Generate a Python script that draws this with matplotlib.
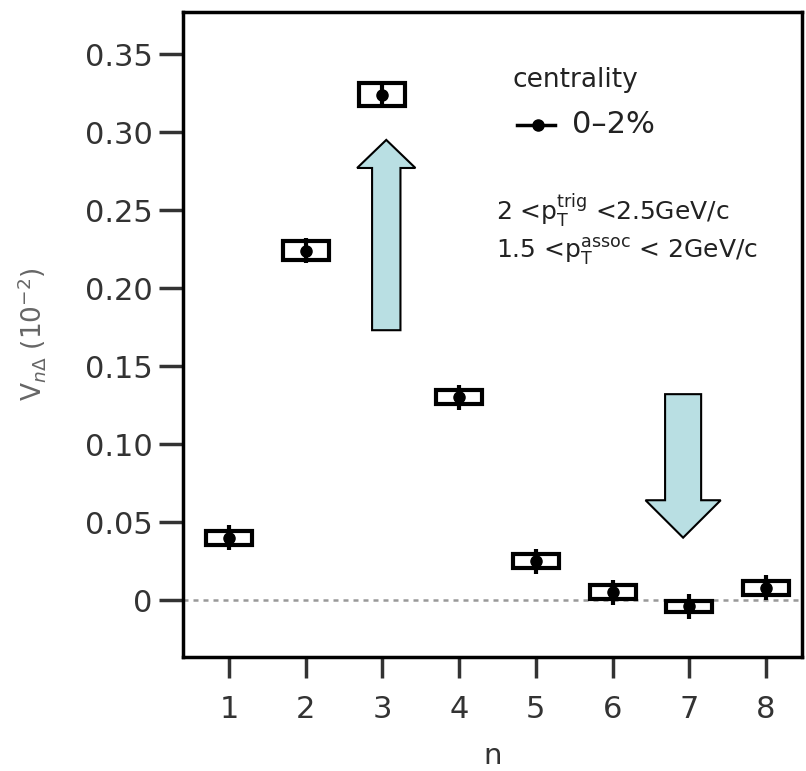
import numpy as np
import matplotlib.pyplot as plt
from matplotlib.patches import Rectangle, FancyArrow

# Harmonic order and measured v_n values (units of 10^-2)
n_vals = [1, 2, 3, 4, 5, 6, 7, 8]
v_vals = [0.040, 0.224, 0.324, 0.130, 0.025, 0.005, -0.004, 0.008]
stat_err = [0.008, 0.008, 0.007, 0.008, 0.008, 0.008, 0.008, 0.008]
sys_err = [0.0045, 0.006, 0.0075, 0.0045, 0.0045, 0.0045, 0.0035, 0.0045]

plt.rcParams['font.family'] = ['DejaVu Sans']
plt.rcParams['mathtext.fontset'] = 'dejavusans'

fig = plt.figure(figsize=(8.06, 7.71), dpi=100)
ax = fig.add_axes([183 / 806, 1 - 657 / 771, 619 / 806, 645 / 771])

ax.set_xlim(0.40, 8.47)
ax.set_ylim(-0.0365, 0.377)

# zero reference line
ax.axhline(0, color='#999999', lw=1.8, ls=(0, (2, 2)), zorder=1)

# systematic boxes
box_w = 0.60
for n, v, s in zip(n_vals, v_vals, sys_err):
    ax.add_patch(Rectangle((n - box_w / 2, v - s), box_w, 2 * s,
                           facecolor='white', edgecolor='black', lw=3, zorder=3))

# points with statistical errors
ax.errorbar(n_vals, v_vals, yerr=stat_err, fmt='o', color='black', ms=8,
            elinewidth=3, capsize=0, zorder=4)

# arrows
ax.add_patch(FancyArrow(3.05, 0.173, 0, 0.122, width=0.37, head_width=0.76,
                        head_length=0.018, length_includes_head=True,
                        facecolor='#b9dfe3', edgecolor='black', lw=1.5, zorder=5))
ax.add_patch(FancyArrow(6.92, 0.132, 0, -0.092, width=0.47, head_width=0.98,
                        head_length=0.024, length_includes_head=True,
                        facecolor='#b9dfe3', edgecolor='black', lw=1.5, zorder=5))

# legend-like annotations
ax.text(0.532, 0.895, 'centrality', transform=ax.transAxes, fontsize=19,
        color='#222222', va='center', ha='left')
ax.plot([0.540, 0.601], [0.825, 0.825], transform=ax.transAxes, color='black', lw=2.5)
ax.plot([0.573], [0.825], 'o', transform=ax.transAxes, color='black', ms=8)
ax.text(0.628, 0.825, '0–2%', transform=ax.transAxes, fontsize=22,
        color='#222222', va='center', ha='left')
ax.text(0.505, 0.693, r'2 <p$_\mathregular{T}^\mathregular{trig}$ <2.5GeV/c',
        transform=ax.transAxes, fontsize=18, color='#222222', va='center')
ax.text(0.505, 0.628, r'1.5 <p$_\mathregular{T}^\mathregular{assoc}$ < 2GeV/c',
        transform=ax.transAxes, fontsize=18, color='#222222', va='center')

ax.set_xticks(n_vals)
ax.set_yticks([0, 0.05, 0.10, 0.15, 0.20, 0.25, 0.30, 0.35])
ax.set_yticklabels(['0', '0.05', '0.10', '0.15', '0.20', '0.25', '0.30', '0.35'])
ax.tick_params(axis='both', direction='out', width=2.5,
               labelsize=22, labelcolor='#333333', color='#333333')
ax.tick_params(axis='y', length=17, pad=5)
ax.tick_params(axis='x', length=15, pad=12)

for sp in ax.spines.values():
    sp.set_linewidth(2.5)

ax.set_xlabel('n', fontsize=21, color='#333333', labelpad=13)
ax.set_ylabel(r'V$_{n\Delta}$ (10$^{-2}$)', fontsize=19, color='#666666', labelpad=26)

fig.savefig('out.png', dpi=100)
